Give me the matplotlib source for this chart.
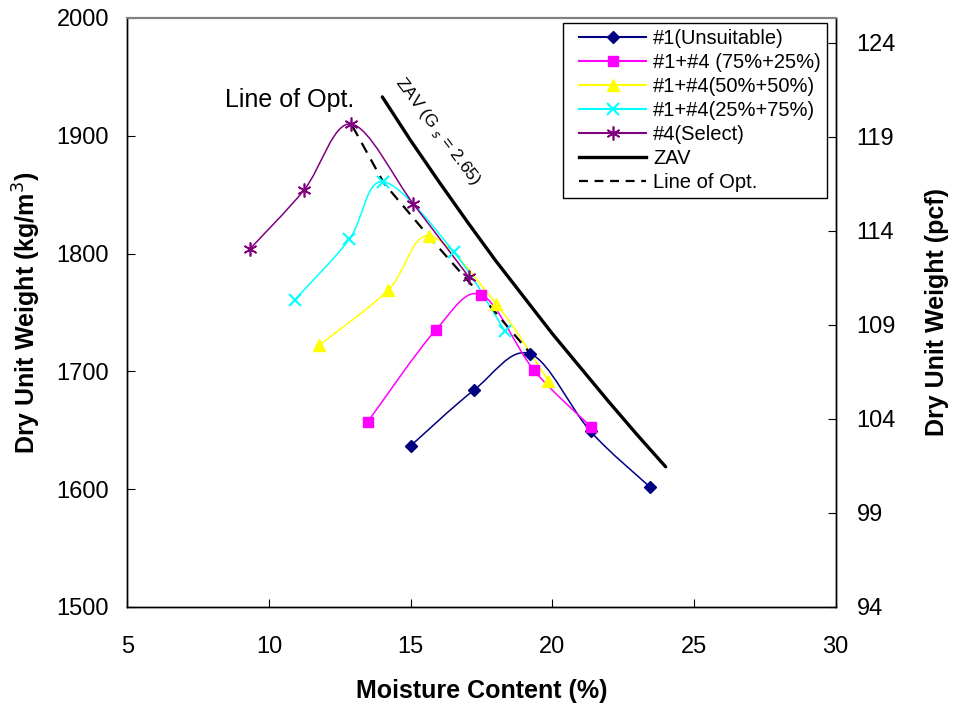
import matplotlib
matplotlib.use("Agg")
import matplotlib.pyplot as plt
import numpy as np
from matplotlib.path import Path
from matplotlib.patches import PathPatch
from matplotlib.lines import Line2D
from matplotlib.legend_handler import HandlerLine2D

plt.rcParams['font.family'] = ['Liberation Sans', 'DejaVu Sans']

# compaction curves (moisture %, dry unit weight kg/m3)
m1 = [15.01, 17.23, 19.21, 21.35, 23.44]
w1 = [1637, 1684, 1715, 1649, 1602]
m2 = [13.48, 15.88, 17.50, 19.35, 21.36]
w2 = [1657, 1735, 1765, 1701, 1653]
m3 = [11.76, 14.21, 15.66, 18.03, 19.86]
w3 = [1722, 1769, 1815, 1757, 1692]
m4 = [10.92, 12.83, 14.03, 16.54, 18.33]
w4 = [1761, 1812, 1861, 1801, 1734]
m5 = [9.33, 11.24, 12.90, 15.10, 17.06]
w5 = [1804, 1854, 1910, 1842, 1780]

# zero air voids line
zav_m = [14, 15, 16, 17, 18, 19, 20, 21, 22, 23, 24]
zav_w = [1933, 1896, 1861, 1827, 1794, 1763, 1732, 1703, 1674, 1646, 1619]

# line of optimums
opt_m = [12.95, 14.05, 15.70, 17.50, 19.20]
opt_w = [1908, 1860, 1813, 1764, 1716]

labels = ['#1(Unsuitable)', '#1+#4 (75%+25%)', '#1+#4(50%+50%)',
          '#1+#4(25%+75%)', '#4(Select)', 'ZAV', 'Line of Opt.']


def smooth_path(x, y):
    # Excel-style smoothed line as cubic bezier segments
    P = np.column_stack([x, y])
    n = len(P)
    verts = [P[0]]
    codes = [Path.MOVETO]
    for i in range(n - 1):
        p0 = P[i - 1] if i > 0 else P[i]
        p3 = P[i + 2] if i + 2 < n else P[i + 1]
        c1 = P[i] + (P[i + 1] - p0) / 6.0
        c2 = P[i + 1] - (p3 - P[i]) / 6.0
        verts += [c1, c2, P[i + 1]]
        codes += [Path.CURVE4] * 3
    return Path(verts, codes)


class PadHandler(HandlerLine2D):
    # leaves some blank room left of the legend line, like Excel does
    def get_xdata(self, legend, xdescent, ydescent, width, height, fontsize):
        off = 0.52 * fontsize
        x0 = -xdescent + off
        x1 = -xdescent + width
        return np.array([x0, x1]), np.array([(x0 + x1) / 2])


fig = plt.figure(figsize=(9.57, 7.08), dpi=100)
ax = fig.add_axes([0.1330, 0.1427, 0.7402, 0.8319])

series = [
    (m1, w1, '#000080', 'D', 6.5, 1.0),
    (m2, w2, '#FF00FF', 's', 7, 1.0),
    (m3, w3, '#FFFF00', '^', 8, 1.0),
    (m4, w4, '#00FFFF', 'x', 9, 1.5),
    (m5, w5, '#800080', (6, 2, 0), 10, 1.2),
]

handles = []
for (xs, ys, c, mk, ms, mew), lab in zip(series, labels):
    ax.add_patch(PathPatch(smooth_path(xs, ys), facecolor='none', edgecolor=c, lw=1.1, zorder=2))
    ax.plot(xs, ys, ls='none', marker=mk, ms=ms, color=c, mec=c, mew=mew, zorder=4)
    handles.append(Line2D([], [], color=c, lw=1.5, marker=mk, ms=ms, mec=c, mew=mew))

ax.plot(zav_m, zav_w, color='black', lw=2.4, solid_capstyle='round', zorder=3)
ax.plot(opt_m, opt_w, color='black', lw=1.6, ls=(0, (5, 3.5)), zorder=3)
handles.append(Line2D([], [], color='black', lw=2.4))
handles.append(Line2D([], [], color='black', lw=1.6, ls=(0, (4, 3))))

ax.set_xlim(5, 30)
ax.set_ylim(1500, 2000)
ax.set_xticks(range(5, 31, 5))
ax.set_yticks(range(1500, 2001, 100))
ax.tick_params(axis='x', direction='in', length=6, labelsize=17, pad=21)
ax.tick_params(axis='y', direction='in', length=6, labelsize=17, pad=13)

ax.text(8.45, 1930, 'Line of Opt.', fontsize=18, ha='left', va='center')
ax.text(15.95, 1904, 'ZAV (G $_s$ = 2.65)', fontsize=12.5, rotation=-53,
        ha='center', va='center', rotation_mode='anchor')

ax.set_xlabel('Moisture Content (%)', fontsize=18, fontweight='bold', va='center')
ax.xaxis.set_label_coords(0.5, -0.143)
ax.set_ylabel('Dry Unit Weight (kg/m$^3$)', fontsize=18, fontweight='bold', va='center')
ax.yaxis.set_label_coords(-0.1416, 0.5)

ax2 = ax.twinx()
ax2.set_ylim(94, 125.33)
ax2.set_yticks(range(94, 125, 5))
ax2.tick_params(axis='y', direction='in', length=6, labelsize=17, pad=15)
ax2.set_ylabel('Dry Unit Weight (pcf)', fontsize=18, fontweight='bold', va='center',
               rotation=90)
ax2.yaxis.set_label_coords(1.143, 0.5)

for a in (ax, ax2):
    for s in ('left', 'bottom', 'right'):
        a.spines[s].set_color('black')
        a.spines[s].set_linewidth(1.0)
    a.spines['top'].set_color('#808080')
    a.spines['top'].set_linewidth(1.5)

leg = ax2.legend(handles, labels, loc='upper right', bbox_to_anchor=(0.988, 0.9915),
                 fontsize=14.5, labelspacing=0.25, handlelength=3.85, handletextpad=0.35,
                 borderpad=0.3, borderaxespad=0, numpoints=1, fancybox=False,
                 framealpha=1, edgecolor='black',
                 handler_map={Line2D: PadHandler()})
leg.get_frame().set_linewidth(1.0)

fig.savefig('out.png', dpi=100)
